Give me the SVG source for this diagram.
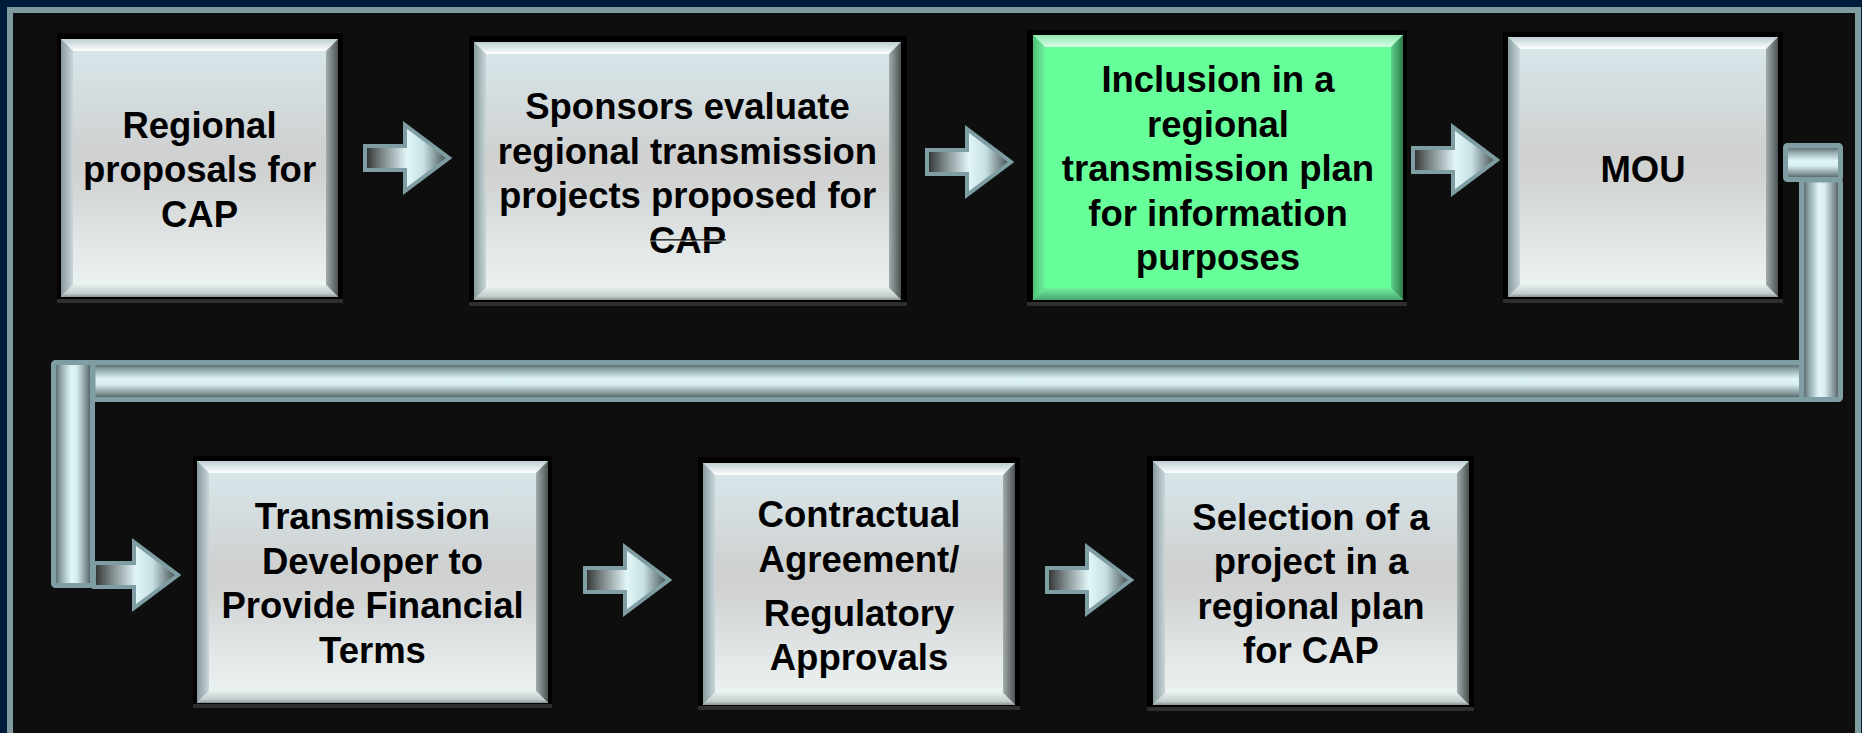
<svg xmlns="http://www.w3.org/2000/svg" width="1862" height="733" viewBox="0 0 1862 733">
<defs>
<linearGradient id="face" x1="0" y1="0" x2="0" y2="1">
<stop offset="0" stop-color="#d8e8ec"/>
<stop offset="0.45" stop-color="#cfd0d0"/>
<stop offset="0.55" stop-color="#d2d4d4"/>
<stop offset="1" stop-color="#eef5f5"/>
</linearGradient>
<linearGradient id="bTop" x1="0" y1="0" x2="0" y2="1">
<stop offset="0" stop-color="#bccfd3"/>
<stop offset="1" stop-color="#ffffff"/>
</linearGradient>
<linearGradient id="bLeft" x1="0" y1="0" x2="1" y2="0">
<stop offset="0" stop-color="#879a9e"/>
<stop offset="1" stop-color="#c9d6d8"/>
</linearGradient>
<linearGradient id="bRight" x1="0" y1="0" x2="1" y2="0">
<stop offset="0" stop-color="#a4acac"/>
<stop offset="1" stop-color="#4c5253"/>
</linearGradient>
<linearGradient id="bBot" x1="0" y1="0" x2="0" y2="1">
<stop offset="0" stop-color="#e4ecec"/>
<stop offset="0.7" stop-color="#c4cccc"/>
<stop offset="1" stop-color="#8a9494"/>
</linearGradient>
<linearGradient id="gTop" x1="0" y1="0" x2="0" y2="1">
<stop offset="0" stop-color="#8fe8ae"/>
<stop offset="1" stop-color="#d8ffe6"/>
</linearGradient>
<linearGradient id="gLeft" x1="0" y1="0" x2="1" y2="0">
<stop offset="0" stop-color="#4cbf75"/>
<stop offset="1" stop-color="#70f0a0"/>
</linearGradient>
<linearGradient id="gRight" x1="0" y1="0" x2="1" y2="0">
<stop offset="0" stop-color="#5ed08a"/>
<stop offset="1" stop-color="#2f7a4a"/>
</linearGradient>
<linearGradient id="gBot" x1="0" y1="0" x2="0" y2="1">
<stop offset="0" stop-color="#70ee9e"/>
<stop offset="1" stop-color="#48a870"/>
</linearGradient>
<linearGradient id="arrowFill" x1="0" y1="0" x2="1" y2="0">
<stop offset="0" stop-color="#2e2e2e"/>
<stop offset="0.2" stop-color="#7a8486"/>
<stop offset="0.5" stop-color="#e2f6f8"/>
<stop offset="0.7" stop-color="#c6dfe2"/>
<stop offset="1" stop-color="#3a4244"/>
</linearGradient>
<linearGradient id="pipeH" x1="0" y1="0" x2="0" y2="1">
<stop offset="0" stop-color="#465254"/>
<stop offset="0.2" stop-color="#93aaae"/>
<stop offset="0.45" stop-color="#e2f6f8"/>
<stop offset="0.6" stop-color="#d6ecee"/>
<stop offset="0.85" stop-color="#7c8e92"/>
<stop offset="1" stop-color="#3c4648"/>
</linearGradient>
<linearGradient id="pipeV" x1="0" y1="0" x2="1" y2="0">
<stop offset="0" stop-color="#465254"/>
<stop offset="0.2" stop-color="#93aaae"/>
<stop offset="0.45" stop-color="#e2f6f8"/>
<stop offset="0.6" stop-color="#d6ecee"/>
<stop offset="0.85" stop-color="#7c8e92"/>
<stop offset="1" stop-color="#3c4648"/>
</linearGradient>
<path id="arrow" d="M0,-12 H40 V-33 L84,0 L40,33 V12 H0 Z"/>
</defs>
<style>
.frame{fill:#000}
.shadow{fill:#2e2e2e}
.face{fill:url(#face)}
.bt{fill:url(#bTop)}
.bl{fill:url(#bLeft)}
.br{fill:url(#bRight)}
.bb{fill:url(#bBot)}
.gface{fill:#66ff99}
.gt{fill:url(#gTop)}
.gl{fill:url(#gLeft)}
.gr{fill:url(#gRight)}
.gb{fill:url(#gBot)}
.lbl{font-family:"Liberation Sans",Arial,sans-serif;font-weight:bold;font-size:36.5px;fill:#000;text-anchor:middle}
.arr{fill:url(#arrowFill);stroke:#7f9ea3;stroke-width:4;stroke-linejoin:miter}
.ph{fill:url(#pipeH);stroke:#7f9ea3;stroke-width:5}
.pv{fill:url(#pipeV);stroke:#7f9ea3;stroke-width:5}
</style>
<rect x="0" y="0" width="1862" height="733" fill="#001a3a"/>
<rect x="10" y="10" width="1848" height="740" fill="#0e0e0e" stroke="#7f9ba0" stroke-width="6"/>

<g id="connectors">
<rect class="ph" x="93" y="362.5" width="1710" height="37"/>
<rect class="pv" x="1801.5" y="180" width="39" height="219.5" rx="2"/>
<rect class="ph" x="1785.5" y="145.5" width="55" height="34" rx="2"/>
<rect class="pv" x="53.5" y="362.5" width="39" height="223" rx="2"/>
<use href="#arrow" class="arr" transform="translate(365,158)"/>
<use href="#arrow" class="arr" transform="translate(927,162)"/>
<use href="#arrow" class="arr" transform="translate(1413,160)"/>
<use href="#arrow" class="arr" transform="translate(94,575)"/>
<use href="#arrow" class="arr" transform="translate(585,580)"/>
<use href="#arrow" class="arr" transform="translate(1047,580)"/>
</g>

<g id="n1">
<rect class="frame" x="57" y="33" width="286" height="270"/>
<rect class="shadow" x="57" y="299" width="286" height="4"/>
<rect class="face" x="61" y="39" width="277" height="258"/>
<polygon class="bt" points="61,39 338,39 326,51 73,51"/>
<polygon class="bl" points="61,39 73,51 73,285 61,297"/>
<polygon class="br" points="338,39 338,297 326,285 326,51"/>
<polygon class="bb" points="61,297 338,297 326,285 73,285"/>
<text class="lbl" x="199.5" y="137.5">Regional</text>
<text class="lbl" x="199.5" y="182">proposals for</text>
<text class="lbl" x="199.5" y="226.5">CAP</text>
</g>

<g id="n2">
<rect class="frame" x="469" y="36" width="438" height="270"/>
<rect class="shadow" x="469" y="302" width="438" height="4"/>
<rect class="face" x="474" y="42" width="427" height="258"/>
<polygon class="bt" points="474,42 901,42 889,54 486,54"/>
<polygon class="bl" points="474,42 486,54 486,288 474,300"/>
<polygon class="br" points="901,42 901,300 889,288 889,54"/>
<polygon class="bb" points="474,300 901,300 889,288 486,288"/>
<text class="lbl" x="687.5" y="119">Sponsors evaluate</text>
<text class="lbl" x="687.5" y="163.5">regional transmission</text>
<text class="lbl" x="687.5" y="208">projects proposed for</text>
<text class="lbl" x="687.5" y="252.5">CAP</text>
<line x1="650" y1="240" x2="726" y2="240" stroke="#000" stroke-width="1.5"/>
<line x1="650" y1="241" x2="726" y2="241" stroke="#ffffff" stroke-width="0.8" stroke-opacity="0.8"/>
</g>

<g id="n3">
<rect class="frame" x="1027" y="30" width="380" height="276"/>
<rect class="shadow" x="1027" y="302" width="380" height="4"/>
<rect class="gface" x="1033" y="35" width="370" height="265"/>
<polygon class="gt" points="1033,35 1403,35 1391,47 1045,47"/>
<polygon class="gl" points="1033,35 1045,47 1045,288 1033,300"/>
<polygon class="gr" points="1403,35 1403,300 1391,288 1391,47"/>
<polygon class="gb" points="1033,300 1403,300 1391,288 1045,288"/>
<text class="lbl" x="1218" y="92">Inclusion in a</text>
<text class="lbl" x="1218" y="136.5">regional</text>
<text class="lbl" x="1218" y="181">transmission plan</text>
<text class="lbl" x="1218" y="225.5">for information</text>
<text class="lbl" x="1218" y="270">purposes</text>
</g>

<g id="n4">
<rect class="frame" x="1503" y="32" width="280" height="271"/>
<rect class="shadow" x="1503" y="299" width="280" height="4"/>
<rect class="face" x="1508" y="37" width="270" height="260"/>
<polygon class="bt" points="1508,37 1778,37 1766,49 1520,49"/>
<polygon class="bl" points="1508,37 1520,49 1520,285 1508,297"/>
<polygon class="br" points="1778,37 1778,297 1766,285 1766,49"/>
<polygon class="bb" points="1508,297 1778,297 1766,285 1520,285"/>
<text class="lbl" x="1643" y="182">MOU</text>
</g>

<g id="n5">
<rect class="frame" x="193" y="456" width="359" height="252"/>
<rect class="shadow" x="193" y="704" width="359" height="4"/>
<rect class="face" x="197" y="461" width="351" height="242"/>
<polygon class="bt" points="197,461 548,461 536,473 209,473"/>
<polygon class="bl" points="197,461 209,473 209,691 197,703"/>
<polygon class="br" points="548,461 548,703 536,691 536,473"/>
<polygon class="bb" points="197,703 548,703 536,691 209,691"/>
<text class="lbl" x="372.5" y="529">Transmission</text>
<text class="lbl" x="372.5" y="573.5">Developer to</text>
<text class="lbl" x="372.5" y="618">Provide Financial</text>
<text class="lbl" x="372.5" y="662.5">Terms</text>
</g>

<g id="n6">
<rect class="frame" x="698" y="457" width="322" height="253"/>
<rect class="shadow" x="698" y="706" width="322" height="4"/>
<rect class="face" x="703" y="463" width="312" height="242"/>
<polygon class="bt" points="703,463 1015,463 1003,475 715,475"/>
<polygon class="bl" points="703,463 715,475 715,693 703,705"/>
<polygon class="br" points="1015,463 1015,705 1003,693 1003,475"/>
<polygon class="bb" points="703,705 1015,705 1003,693 715,693"/>
<text class="lbl" x="859" y="527">Contractual</text>
<text class="lbl" x="859" y="572">Agreement/</text>
<text class="lbl" x="859" y="625.5">Regulatory</text>
<text class="lbl" x="859" y="670">Approvals</text>
</g>

<g id="n7">
<rect class="frame" x="1147" y="456" width="327" height="255"/>
<rect class="shadow" x="1147" y="707" width="327" height="4"/>
<rect class="face" x="1153" y="461" width="316" height="244"/>
<polygon class="bt" points="1153,461 1469,461 1457,473 1165,473"/>
<polygon class="bl" points="1153,461 1165,473 1165,693 1153,705"/>
<polygon class="br" points="1469,461 1469,705 1457,693 1457,473"/>
<polygon class="bb" points="1153,705 1469,705 1457,693 1165,693"/>
<text class="lbl" x="1311" y="530">Selection of a</text>
<text class="lbl" x="1311" y="574">project in a</text>
<text class="lbl" x="1311" y="618.5">regional plan</text>
<text class="lbl" x="1311" y="663">for CAP</text>
</g>
</svg>
